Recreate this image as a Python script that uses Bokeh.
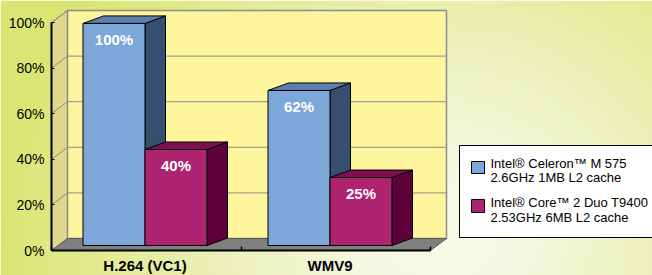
import numpy as np
from bokeh.plotting import figure
from bokeh.models import LinearAxis, FixedTicker, Range1d
from bokeh.core.properties import value
from bokeh.embed import file_html
from bokeh.resources import INLINE

# ---------------- data ----------------
categories = ["H.264 (VC1)", "WMV9"]
series_names = [
    ["Intel® Celeron™ M 575", "2.6GHz 1MB L2 cache"],
    ["Intel® Core™ 2 Duo T9400", "2.53GHz 6MB L2 cache"],
]
celeron_heights = [97.4, 68.0]     # bar heights as drawn
core2_heights = [42.1, 29.8]
celeron_labels = ["100%", "62%"]   # printed value labels
core2_labels = ["40%", "25%"]
y_ticks = [0, 20, 40, 60, 80, 100]
y_tick_labels = ["0%", "20%", "40%", "60%", "80%", "100%"]

series_heights = [celeron_heights, core2_heights]
series_labels = [celeron_labels, core2_labels]
series_colors = [
    dict(front="#7ba7d9", top="#5b80ab", side="#35506e"),
    dict(front="#ae2470", top="#7e0f50", side="#5e0039"),
]

# ---------------- layout helpers ----------------
W, H = 652, 275
PXX, PXY = 185.0, 2.28


def X(ref_x):
    return 1 + (ref_x - 144.5) / PXX


def Y(ref_y):
    return (250 - ref_y) / PXY


FONT = "Liberation Sans"

p = figure(width=W, height=H, output_backend="svg", toolbar_location=None,
           x_axis_type=None, y_axis_type=None,
           x_range=Range1d(X(0), X(W)), y_range=Range1d(Y(H), Y(0)),
           min_border=0, outline_line_color=None,
           background_fill_color=None, border_fill_color=None)
p.grid.visible = False

# background gradient
ii, jj = np.meshgrid(np.arange(W), np.arange(H))
xr = ii + 0.5
yr = (H - 1 - jj) + 0.5
d = np.sqrt(((xr - 440) / 1.15) ** 2 + (yr - 230) ** 2)
f = np.clip((d - 50) / 330.0, 0, 1) ** 1.1
light = np.array([247, 249, 230])
green = np.array([218, 230, 116])
rgb = light[None, None, :] * (1 - f[..., None]) + green[None, None, :] * f[..., None]
img = np.empty((H, W), dtype=np.uint32)
view = img.view(dtype=np.uint8).reshape((H, W, 4))
view[..., :3] = rgb.astype(np.uint8)
view[..., 3] = 255
p.image_rgba(image=[img], x=X(0), y=Y(H), dw=X(W) - X(0), dh=Y(0) - Y(H))

# walls and floor
AX0, AX1 = X(51), X(430)
DX, DY = 16 / PXX, 12 / PXY
p.patch([AX0, AX0 + DX, AX0 + DX, AX0], [0, DY, 100 + DY, 100],
        fill_color="#e0d68c", line_color="#8c8c8c", line_width=1)
p.quad(left=AX0 + DX, right=AX1 + DX, bottom=DY, top=100 + DY,
       fill_color="#fff59c", line_color="#8c8c8c", line_width=1.5)
gv = y_ticks[1:]
p.segment(x0=[AX0] * len(gv), y0=gv, x1=[AX0 + DX] * len(gv), y1=[v + DY for v in gv],
          line_color="#8c8c8c", line_width=1)
p.segment(x0=[AX0 + DX] * len(gv), y0=[v + DY for v in gv],
          x1=[AX1 + DX] * len(gv), y1=[v + DY for v in gv],
          line_color="#8c8c8c", line_width=1)
p.patch([AX0, AX1, AX1 + DX, AX0 + DX], [0, 0, DY, DY],
        fill_color="#7f7f7f", line_color="#5a5a5a", line_width=1)

# 3D bars
BASE = Y(245)
WB = 62 / PXX
BDX, BDY = 20.5 / PXX, 7.5 / PXY
for s, (hs, labs, col) in enumerate(zip(series_heights, series_labels, series_colors)):
    centers = [g + 1 for g in range(len(categories))]
    lefts = [c - WB + s * WB for c in centers]
    rights = [l + WB for l in lefts]
    tops = [BASE + h for h in hs]
    p.patches(xs=[[r, r + BDX, r + BDX, r] for r in rights],
              ys=[[BASE, BASE + BDY, t + BDY, t] for t in tops],
              fill_color=col["side"], line_color="black", line_width=1)
    p.patches(xs=[[l, r, r + BDX, l + BDX] for l, r in zip(lefts, rights)],
              ys=[[t, t, t + BDY, t + BDY] for t in tops],
              fill_color=col["top"], line_color="black", line_width=1)
    p.quad(left=lefts, right=rights, bottom=BASE, top=tops,
           fill_color=col["front"], line_color="black", line_width=1)
    p.text(x=[(l + r) / 2 for l, r in zip(lefts, rights)], y=[t - 7 for t in tops], text=labs,
           text_color="white", text_font=value(FONT), text_font_style="bold",
           text_font_size="15px", text_align="center", text_baseline="middle")

# axes
yaxis = LinearAxis(fixed_location=AX0, bounds=(0, 100),
                   ticker=FixedTicker(ticks=y_ticks),
                   major_label_overrides={t: l for t, l in zip(y_ticks, y_tick_labels)},
                   axis_line_color="black", axis_line_width=2,
                   major_tick_in=3, major_tick_out=0, major_tick_line_color="black",
                   minor_tick_line_color=None, major_label_standoff=7,
                   major_label_text_font=FONT, major_label_text_font_size="14px",
                   major_label_text_color="black")
p.add_layout(yaxis, "left")

xaxis = LinearAxis(fixed_location=0, bounds=(AX0, AX1),
                   ticker=FixedTicker(ticks=[1, 2], minor_ticks=[AX0 + 0.002, 1.52, AX1 - 0.002]),
                   major_label_overrides={i + 1: c for i, c in enumerate(categories)},
                   axis_line_color="black", axis_line_width=2,
                   major_tick_line_color=None,
                   minor_tick_in=4, minor_tick_out=0, minor_tick_line_color="black",
                   minor_tick_line_width=1.5,
                   major_label_standoff=0,
                   major_label_text_font=FONT, major_label_text_font_size="15px",
                   major_label_text_font_style="bold", major_label_text_color="black")
p.add_layout(xaxis, "below")

# legend (drawn)
p.quad(left=X(459), right=X(700), top=Y(145), bottom=Y(237),
       fill_color="white", line_color="black", line_width=1)
p.quad(left=[X(471), X(471)], right=[X(484), X(484)], top=[Y(161), Y(199)],
       bottom=[Y(173), Y(212)], fill_color=[c["front"] for c in series_colors],
       line_color="black", line_width=1)
p.text(x=[X(490)] * 4, y=[Y(162.7), Y(176.7), Y(201.7), Y(216.7)],
       text=[series_names[0][0], series_names[0][1], series_names[1][0], series_names[1][1]],
       text_color="black", text_font=value(FONT), text_font_size="13px",
       text_align="left", text_baseline="middle")

open("out.html", "w").write(file_html(p, INLINE))
